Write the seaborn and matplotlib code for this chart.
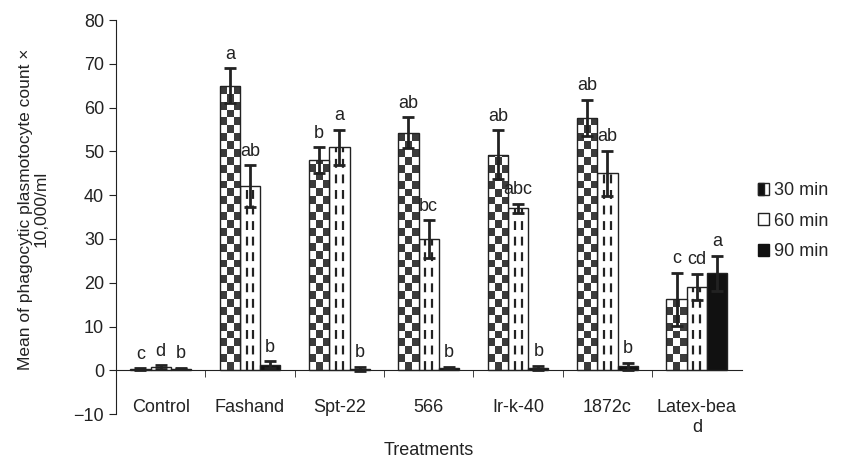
import numpy as np
import pandas as pd
import matplotlib
matplotlib.use("Agg")
import matplotlib.pyplot as plt
import seaborn as sns
from matplotlib.patches import Patch, Rectangle
from matplotlib.legend_handler import HandlerBase

## data
treatments = ["Control", "Fashand", "Spt-22", "566", "Ir-k-40", "1872c", "Latex-bea\nd"]
times = ["30 min", "60 min", "90 min"]
mean_30 = [0.3, 65.0, 48.0, 54.3, 49.3, 57.7, 16.2]
mean_60 = [0.7, 42.0, 51.0, 30.0, 37.0, 45.0, 19.0]
mean_90 = [0.4, 1.3, 0.3, 0.5, 0.5, 0.9, 22.2]
err_30 = [0.2, 4.0, 3.0, 3.5, 5.5, 4.1, 6.1]
err_60 = [0.4, 4.8, 4.0, 4.3, 1.0, 5.2, 3.0]
err_90 = [0.2, 0.8, 0.5, 0.3, 0.5, 0.8, 4.0]
letters_30 = ["c", "a", "b", "ab", "ab", "ab", "c"]
letters_60 = ["d", "ab", "a", "bc", "abc", "ab", "cd"]
letters_90 = ["b", "b", "b", "b", "b", "b", "a"]

## long table for seaborn
rows = []
for i, t in enumerate(treatments):
    rows.append({"Treatment": t, "Time": times[0], "Value": mean_30[i]})
    rows.append({"Treatment": t, "Time": times[1], "Value": mean_60[i]})
    rows.append({"Treatment": t, "Time": times[2], "Value": mean_90[i]})
df = pd.DataFrame(rows)

sns.set_style("ticks")
plt.rcParams["font.family"] = ["Liberation Sans", "DejaVu Sans"]
ink = "#222222"
fs = 13

fig = plt.figure(figsize=(8.43, 4.59), dpi=100)
ax = fig.add_axes([0.1376, 0.098, 0.742, 0.858])

sns.barplot(data=df, x="Treatment", y="Value", hue="Time", order=treatments,
            hue_order=times, palette=["white", "white", "#111111"], errorbar=None,
            width=0.68, edgecolor=ink, linewidth=1.0, legend=False, ax=ax)

ax.set_ylim(-10, 80)
ax.set_xlim(-0.5, len(treatments) - 0.5)

## patterns: checkerboard for 30 min, dashed lines for 60 min
cell_h = 1.8
for p in ax.containers[0]:
    x0 = p.get_x()
    w = p.get_width()
    h = p.get_height()
    nrow = int(np.ceil(h / cell_h)) + 1
    board = (np.indices((nrow, 3)).sum(axis=0) % 2)
    im = ax.imshow(board, cmap="binary", vmin=0, vmax=1.3, extent=(x0, x0 + w, 0, nrow * cell_h),
                   origin="lower", aspect="auto", interpolation="nearest", zorder=p.get_zorder())
    im.set_clip_path(p)
    p.set_zorder(p.get_zorder() + 0.1)
    p.set_facecolor("none")
for p in ax.containers[1]:
    x0 = p.get_x()
    w = p.get_width()
    h = p.get_height()
    if h > 3:
        ax.vlines([x0 + w * 0.33, x0 + w * 0.67], 0, h, colors=ink,
                  linestyles=(0, (4, 3)), linewidth=1.6, zorder=p.get_zorder() + 0.2)
ax.set_xlim(-0.5, len(treatments) - 0.5)
ax.set_ylim(-10, 80)

## error bars and letters
for cont, errs, lets in zip(ax.containers, [err_30, err_60, err_90],
                            [letters_30, letters_60, letters_90]):
    for p, e, l in zip(cont, errs, lets):
        xc = p.get_x() + p.get_width() / 2
        h = p.get_height()
        ax.errorbar(xc, h, yerr=e, fmt="none", ecolor=ink, elinewidth=2,
                    capsize=4, capthick=2, zorder=5)
        ax.annotate(l, (xc, h + e), xytext=(0, 4), textcoords="offset points",
                    ha="center", va="bottom", fontsize=fs, color=ink)

## axes styling
sns.despine(ax=ax, right=True, top=True)
ax.spines["bottom"].set_position(("data", 0))
ax.spines["left"].set_color(ink)
ax.spines["bottom"].set_color(ink)
ax.set_yticks(range(-10, 81, 10))
ax.set_yticklabels(["\u221210"] + [str(v) for v in range(0, 81, 10)])
ax.tick_params(axis="y", labelsize=fs, length=5, color=ink, labelcolor=ink)
ax.set_xticks(range(len(treatments)))
ax.set_xticklabels(treatments)
ax.set_xticks(np.arange(0.5, len(treatments) - 1, 1.0), minor=True)
ax.tick_params(axis="x", which="major", length=0, pad=21, labelsize=fs, labelcolor=ink)
ax.tick_params(axis="x", which="minor", length=5, color=ink)
ax.set_xlabel("Treatments", fontsize=fs, color=ink, va="center")
ax.xaxis.set_label_coords(0.5, -0.092)
ax.set_ylabel("Mean of phagocytic plasmotocyte count \u00d7\n10,000/ml", fontsize=12.5,
              color=ink, linespacing=1.0)
ax.yaxis.set_label_coords(-0.108, 0.52)


## legend, 30 min icon half filled
class HalfHandler(HandlerBase):
    def create_artists(self, legend, orig_handle, xdescent, ydescent, width, height, fontsize, trans):
        r1 = Rectangle((-xdescent, -ydescent), width, height, facecolor="white",
                       edgecolor=ink, linewidth=1.0, transform=trans)
        r2 = Rectangle((-xdescent, -ydescent), width * 0.5, height, facecolor="#111111",
                       edgecolor=ink, linewidth=1.0, transform=trans)
        return [r1, r2]


h30 = Patch(facecolor="white", edgecolor=ink)
handles = [h30,
           Patch(facecolor="white", edgecolor=ink),
           Patch(facecolor="#111111", edgecolor="#111111")]
ax.legend(handles, times, loc="center left", bbox_to_anchor=(1.0, 0.49), frameon=False,
          fontsize=fs, handlelength=0.65, handleheight=0.65, handletextpad=0.25, labelspacing=0.75,
          handler_map={h30: HalfHandler()})

plt.savefig("out.png", dpi=100)
plt.close()
